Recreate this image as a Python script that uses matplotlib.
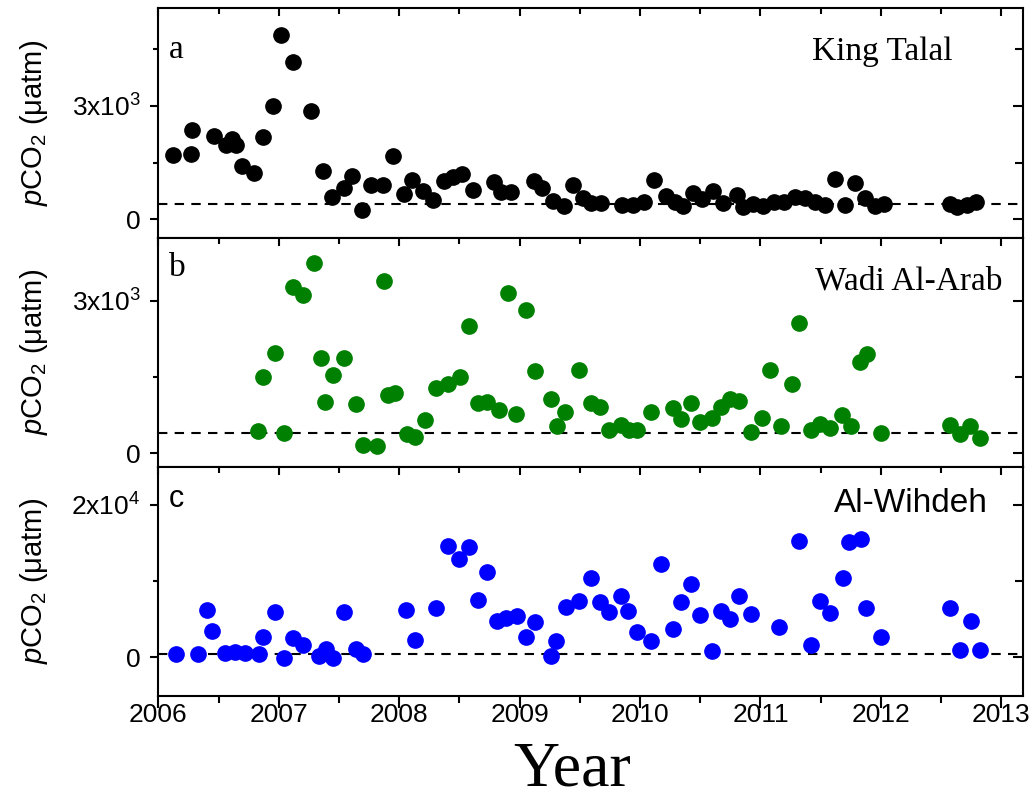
import matplotlib
matplotlib.use("Agg")
import matplotlib.pyplot as plt
from matplotlib.ticker import FixedLocator, FixedFormatter
from matplotlib.lines import TICKDOWN

plt.rcParams['font.family'] = ['Liberation Sans', 'DejaVu Sans']
plt.rcParams['mathtext.fontset'] = 'custom'
plt.rcParams['mathtext.rm'] = 'Liberation Sans'
plt.rcParams['mathtext.it'] = 'Liberation Sans:italic'
plt.rcParams['mathtext.bf'] = 'Liberation Sans:bold'

# ---------------- data ----------------
kt_year = [2006.124, 2006.268, 2006.277, 2006.465, 2006.559, 2006.614, 2006.642, 2006.692,
           2006.794, 2006.871, 2006.949, 2007.018, 2007.115, 2007.272, 2007.364, 2007.444,
           2007.541, 2007.610, 2007.693, 2007.770, 2007.867, 2007.945, 2008.041, 2008.108,
           2008.199, 2008.282, 2008.373, 2008.448, 2008.525, 2008.609, 2008.788, 2008.844,
           2008.932, 2009.117, 2009.188, 2009.278, 2009.365, 2009.441, 2009.525, 2009.596,
           2009.680, 2009.849, 2009.939, 2010.031, 2010.116, 2010.214, 2010.290, 2010.355,
           2010.439, 2010.518, 2010.608, 2010.693, 2010.805, 2010.856, 2010.940, 2011.024,
           2011.109, 2011.193, 2011.283, 2011.368, 2011.452, 2011.536, 2011.621, 2011.700,
           2011.781, 2011.866, 2011.950, 2012.029, 2012.577, 2012.634, 2012.718, 2012.788]
kt_pco2 = [1710, 1736, 2350, 2210, 1956, 2122, 1973, 1421,
           1228, 2166, 2999, 4867, 4148, 2868, 1272, 588,
           816, 1140, 237, 903, 903, 1684, 658, 1035,
           745, 509, 1009, 1114, 1201, 772, 982, 719,
           719, 1019, 827, 479, 348, 914, 566, 435,
           435, 366, 392, 453, 1036, 609, 470, 348,
           696, 540, 740, 435, 644, 322, 409, 348,
           453, 470, 583, 566, 453, 366, 1062, 383,
           949, 566, 348, 409, 409, 322, 383, 470]

wa_year = [2006.830, 2006.871, 2006.968, 2007.043, 2007.120, 2007.198, 2007.292, 2007.347,
           2007.383, 2007.447, 2007.541, 2007.638, 2007.701, 2007.820, 2007.876, 2007.909,
           2007.964, 2008.061, 2008.130, 2008.213, 2008.304, 2008.407, 2008.503, 2008.581,
           2008.656, 2008.730, 2008.827, 2008.905, 2008.968, 2009.055, 2009.131, 2009.264,
           2009.314, 2009.379, 2009.497, 2009.590, 2009.671, 2009.742, 2009.840, 2009.905,
           2009.975, 2010.093, 2010.271, 2010.341, 2010.425, 2010.501, 2010.594, 2010.670,
           2010.743, 2010.825, 2010.923, 2011.016, 2011.078, 2011.171, 2011.261, 2011.317,
           2011.416, 2011.494, 2011.579, 2011.677, 2011.753, 2011.823, 2011.882, 2012.000,
           2012.577, 2012.653, 2012.740, 2012.825]
wa_pco2 = [443, 1500, 1976, 391, 3281, 3118, 3750, 1872,
           998, 1533, 1872, 959, 163, 130, 3391, 1141,
           1187, 378, 326, 652, 1285, 1357, 1500, 2498,
           991, 998, 848, 3163, 763, 2818, 1617, 1076,
           535, 815, 1631, 991, 913, 457, 554, 457,
           457, 802, 894, 665, 978, 620, 685, 900,
           1076, 1024, 411, 685, 1644, 541, 1370, 2563,
           457, 574, 489, 750, 541, 1794, 1944, 404,
           554, 378, 541, 293]

aw_year = [2006.144, 2006.326, 2006.407, 2006.445, 2006.553, 2006.636, 2006.719, 2006.835,
           2006.871, 2006.968, 2007.043, 2007.120, 2007.198, 2007.336, 2007.391, 2007.447,
           2007.541, 2007.638, 2007.701, 2008.053, 2008.130, 2008.304, 2008.407, 2008.498,
           2008.581, 2008.656, 2008.730, 2008.816, 2008.891, 2008.977, 2009.055, 2009.131,
           2009.264, 2009.306, 2009.385, 2009.497, 2009.590, 2009.671, 2009.742, 2009.840,
           2009.899, 2009.975, 2010.093, 2010.172, 2010.271, 2010.341, 2010.420, 2010.501,
           2010.594, 2010.670, 2010.749, 2010.825, 2010.923, 2011.151, 2011.320, 2011.418,
           2011.494, 2011.579, 2011.683, 2011.739, 2011.832, 2011.880, 2012.000, 2012.577,
           2012.653, 2012.746, 2012.825]
aw_pco2 = [482, 482, 6272, 3421, 570, 658, 570, 439,
           2675, 5921, -88, 2544, 1667, 132, 1140, -88,
           5921, 1096, 439, 6184, 2325, 6491, 14605, 12939,
           14474, 7588, 11184, 4737, 5175, 5483, 2632, 4605,
           132, 2193, 6579, 7456, 10439, 7237, 5965, 8026,
           6053, 3290, 2193, 12281, 3772, 7237, 9693, 5526,
           877, 6053, 5088, 8026, 5746, 3947, 15263, 1667,
           7369, 5833, 10439, 15175, 15483, 6491, 2675, 6491,
           1009, 4825, 1009]

atm_pco2 = 395

panel_letters = ['a', 'b', 'c']
site_names = ['King Talal', 'Wadi Al-Arab', 'Al-Wihdeh']
colors = ['#000000', '#008000', '#0000FF']
ylims = [(-480, 5570), (-270, 4250), (-5050, 25000)]
major_ticks = [[0, 3000], [0, 3000], [0, 20000]]
major_labels = [['0', '3x10$^{3}$'], ['0', '3x10$^{3}$'], ['0', '2x10$^{4}$']]
minor_ticks = [[1500, 4500], [1500], [10000]]
year_ticks = [2006, 2007, 2008, 2009, 2010, 2011, 2012, 2013]
year_minor = [2006.5, 2007.5, 2008.5, 2009.5, 2010.5, 2011.5, 2012.5]

xs = [kt_year, wa_year, aw_year]
ys = [kt_pco2, wa_pco2, aw_pco2]

fig = plt.figure(figsize=(10.30, 7.99), dpi=100)
gs = fig.add_gridspec(3, 1, left=0.1537, right=0.9932, top=0.9896, bottom=0.1289, hspace=0)
axes = [fig.add_subplot(gs[i]) for i in range(3)]

serif = ['Liberation Serif', 'DejaVu Serif']
sans = ['Liberation Sans', 'DejaVu Sans']
letter_fonts = [serif, serif, sans]
letter_sizes = [24, 24, 22]
letter_y = [0.784, 0.832, 0.825]
name_fonts = [serif, serif, sans]
name_x = [0.918, 0.976, 0.959]
name_y = [0.81, 0.81, 0.84]

for i, ax in enumerate(axes):
    ax.axhline(atm_pco2, color='black', lw=1.5, linestyle=(0, (4.5, 3.5)), zorder=1)
    ax.plot(xs[i], ys[i], 'o', color=colors[i], ms=11, mec=colors[i], zorder=3)
    ax.set_xlim(2006, 2013.18)
    ax.set_ylim(*ylims[i])
    for sp in ax.spines.values():
        sp.set_linewidth(1.5)
    ax.yaxis.set_major_locator(FixedLocator(major_ticks[i]))
    ax.yaxis.set_major_formatter(FixedFormatter(major_labels[i]))
    ax.yaxis.set_minor_locator(FixedLocator(minor_ticks[i]))
    ax.xaxis.set_major_locator(FixedLocator(year_ticks))
    ax.xaxis.set_minor_locator(FixedLocator(year_minor))
    ax.tick_params(axis='y', which='both', left=True, right=False, direction='out',
                   width=1.5, labelsize=19, pad=7)
    ax.tick_params(axis='y', which='major', length=5.8)
    ax.tick_params(axis='y', which='minor', length=3.6)
    axr = ax.twinx()
    axr.set_ylim(*ylims[i])
    axr.yaxis.set_major_locator(FixedLocator(major_ticks[i]))
    axr.yaxis.set_minor_locator(FixedLocator(minor_ticks[i]))
    axr.tick_params(axis='y', which='both', direction='in', width=1.5, labelright=False)
    axr.tick_params(axis='y', which='major', length=7.2)
    axr.tick_params(axis='y', which='minor', length=5.8)
    for sp in axr.spines.values():
        sp.set_visible(False)
    ax.tick_params(axis='x', which='both', top=True, bottom=(i == 2), direction='in',
                   width=1.5, labelbottom=(i == 2), labelsize=19, pad=5)
    ax.tick_params(axis='x', which='major', length=5.8)
    ax.tick_params(axis='x', which='minor', length=4.3)
    ax.set_ylabel(r'$p$CO$_2$ ($\mathrm{\mu}$atm)', fontsize=21)
    ax.yaxis.set_label_coords(-0.125, 0.5)
    ax.text(0.012, letter_y[i], panel_letters[i], transform=ax.transAxes,
            fontsize=letter_sizes[i], family=letter_fonts[i], ha='left', va='baseline')
    ax.text(name_x[i], name_y[i], site_names[i], transform=ax.transAxes, fontsize=24,
            family=name_fonts[i], ha='right', va='center')

# bottom ticks of last panel point outward
ax = axes[2]
for t in ax.xaxis.get_major_ticks():
    t.tick1line.set_marker(TICKDOWN)
    t.tick1line.set_markersize(8.6)
for t in ax.xaxis.get_minor_ticks():
    t.tick1line.set_marker(TICKDOWN)
    t.tick1line.set_markersize(5)

fig.text(572 / 1030, 1 - 770 / 799, 'Year', fontsize=46, family=serif,
         ha='center', va='center')

fig.savefig('out.png', dpi=100)
